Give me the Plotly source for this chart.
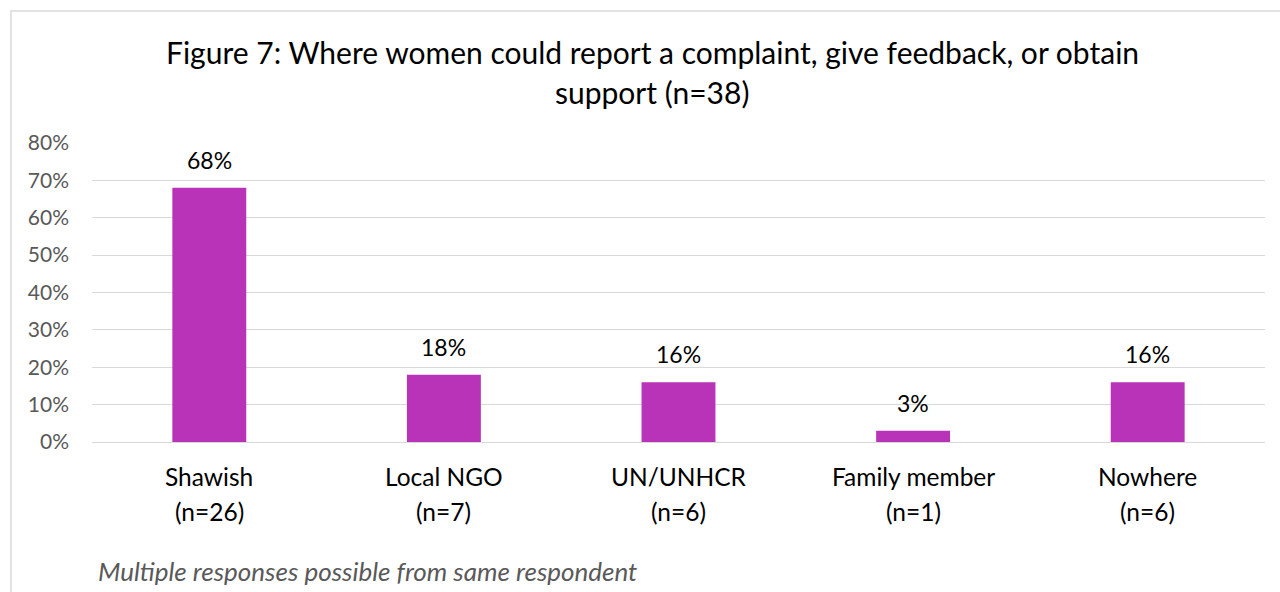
import plotly.graph_objects as go

# Responses per reporting channel
categories = ["Shawish", "Local NGO", "UN/UNHCR", "Family member", "Nowhere"]
counts = ["(n=26)", "(n=7)", "(n=6)", "(n=1)", "(n=6)"]
shares = [0.68, 0.18, 0.16, 0.03, 0.16]
y_ticks = [0, 0.1, 0.2, 0.3, 0.4, 0.5, 0.6, 0.7, 0.8]

title_lines = [
    "Figure 7: Where women could report a complaint, give feedback, or obtain",
    "support (n=38)",
]
footnote = "Multiple responses possible from same respondent"

FONT = "Lato, Carlito, Calibri, sans-serif"
BAR = "#B833B7"
GRID = "#D9D9D9"
W, H = 1280, 592
L, R, T, B = 92, 15, 143, 150
PW, PH = W - L - R, H - T - B


def px_x(x):
    """Pixel column -> paper x (paper spans the plot area)."""
    return (x - L) / PW


def px_y(y):
    """Pixel row (from top) -> paper y."""
    return (H - B - y) / PH


fig = go.Figure(
    go.Bar(
        x=categories,
        y=shares,
        marker=dict(color=BAR, line=dict(width=0)),
        width=0.315,
        hoverinfo="skip",
    )
)

annotations = []
# value labels above bars
for c, v in zip(categories, shares):
    annotations.append(dict(
        x=c, y=v, xref="x", yref="y", text=f"{round(v * 100)}%",
        showarrow=False, yanchor="bottom", yshift=12,
        font=dict(family=FONT, size=23, color="#000000"),
    ))
# two-line category labels
for c, n in zip(categories, counts):
    annotations.append(dict(
        x=c, y=0, xref="x", yref="paper", text=c, showarrow=False,
        yanchor="middle", yshift=-34,
        font=dict(family=FONT, size=24.5, color="#000000"),
    ))
    annotations.append(dict(
        x=c, y=0, xref="x", yref="paper", text=n, showarrow=False,
        yanchor="middle", yshift=-69,
        font=dict(family=FONT, size=24.5, color="#000000"),
    ))
# title
for i, line in enumerate(title_lines):
    annotations.append(dict(
        x=px_x(652), y=px_y(52 + 40 * i), xref="paper", yref="paper",
        text=line, showarrow=False, xanchor="center", yanchor="middle",
        font=dict(family=FONT, size=30, color="#000000"),
    ))
# footnote
annotations.append(dict(
    x=px_x(96), y=px_y(571), xref="paper", yref="paper",
    text=f"<i>{footnote}</i>", showarrow=False, xanchor="left", yanchor="middle",
    font=dict(family=FONT, size=26, color="#595959"),
))

fig.update_layout(
    width=W, height=H,
    margin=dict(l=L, r=R, t=T, b=B),
    paper_bgcolor="white", plot_bgcolor="white",
    showlegend=False,
    bargap=0.685,
    annotations=annotations,
    xaxis=dict(showticklabels=False, showgrid=False, zeroline=False,
               showline=False, ticks=""),
    yaxis=dict(range=[0, 0.8], tickvals=y_ticks, tickformat=".0%",
               showgrid=True, gridcolor=GRID, gridwidth=1,
               zeroline=True, zerolinecolor=GRID, zerolinewidth=1,
               ticks="", ticklabelstandoff=22,
               tickfont=dict(family=FONT, size=21, color="#595959")),
    shapes=[dict(type="rect", xref="paper", yref="paper",
                 x0=px_x(11), x1=px_x(W + 20), y0=px_y(H + 20), y1=px_y(11),
                 line=dict(color=GRID, width=1.5), fillcolor="rgba(0,0,0,0)",
                 layer="below")],
)

fig.write_html("out.html")
